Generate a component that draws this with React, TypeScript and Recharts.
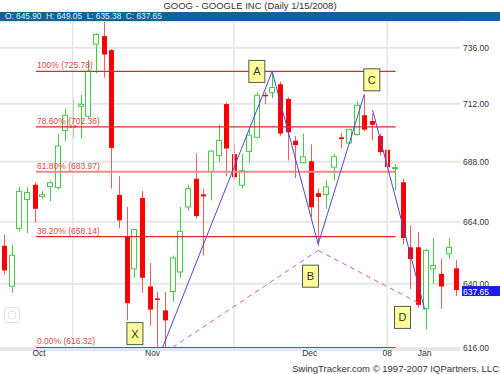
import React from "react"
import {
  Bar,
  CartesianGrid,
  ComposedChart,
  ReferenceDot,
  ReferenceLine,
  XAxis,
  YAxis,
} from "recharts"

const FONT = '"Liberation Sans", Arial, sans-serif'
const GREEN = "#44cc44"
const RED = "#ff0000"
const RED_WICK = "#f25c5c"
const FIB_RED = "#e02828"

// GOOG daily, 10/19/2007 - 1/15/2008
const dates = [
  "10/19", "10/22", "10/23", "10/24", "10/25", "10/26", "10/29", "10/30", "10/31",
  "11/01", "11/02", "11/05", "11/06", "11/07", "11/08", "11/09", "11/12", "11/13", "11/14", "11/15",
  "11/16", "11/19", "11/20", "11/21", "11/23", "11/26", "11/27", "11/28", "11/29", "11/30",
  "12/03", "12/04", "12/05", "12/06", "12/07", "12/10", "12/11", "12/12", "12/13", "12/14",
  "12/17", "12/18", "12/19", "12/20", "12/21", "12/24", "12/26", "12/27", "12/28", "12/31",
  "01/02", "01/03", "01/04", "01/07", "01/08", "01/09", "01/10", "01/11", "01/14", "01/15",
]
const opens = [
  654.6, 639.1, 661.4, 672.8, 678.7, 673.9, 677.9, 677.5, 700.8,
  702.2, 711.0, 706.8, 737.6, 741.2, 735.0, 674.6, 658.3, 645.7, 673.4, 639.0,
  634.5, 630.0, 637.1, 644.5, 669.8, 681.1, 674.8, 683.8, 690.5, 711.9,
  691.1, 678.5, 692.2, 698.0, 715.8, 716.7, 720.3, 714.1, 696.6, 687.6,
  688.2, 675.3, 674.8, 685.8, 698.0, 695.7, 699.2, 707.2, 704.8, 698.6,
  692.9, 685.2, 679.7, 654.0, 654.0, 630.6, 645.7, 643.8, 651.5, 645.9,
]
const highs = [
  659.0, 655.0, 677.7, 677.7, 679.5, 676.1, 680.4, 699.5, 710.0,
  714.0, 715.7, 730.7, 742.5, 747.4, 735.5, 682.1, 669.8, 661.2, 676.1, 648.0,
  636.8, 636.9, 650.8, 669.8, 678.7, 691.4, 677.1, 692.9, 703.3, 712.5,
  695.4, 691.1, 702.3, 717.0, 717.1, 725.78, 721.4, 714.9, 698.5, 699.6,
  695.1, 677.1, 680.4, 691.3, 699.9, 701.5, 713.0, 716.2, 707.9, 699.6,
  697.5, 687.0, 681.2, 662.5, 659.9, 653.4, 657.6, 649.6, 657.5, 649.05,
]
const lows = [
  643.6, 636.6, 660.2, 659.6, 663.6, 673.1, 672.0, 676.8, 696.4,
  697.9, 697.5, 705.9, 725.1, 723.1, 677.1, 661.4, 626.3, 642.3, 636.6, 624.4,
  616.5, 616.32, 633.2, 642.3, 668.4, 665.2, 650.8, 672.4, 687.8, 682.1,
  680.8, 677.1, 687.6, 697.5, 711.8, 714.4, 698.6, 688.5, 681.3, 687.3,
  665.8, 654.6, 669.1, 680.4, 693.4, 695.2, 698.8, 700.5, 696.8, 690.5,
  677.7, 676.4, 655.0, 638.1, 631.1, 623.0, 640.0, 630.6, 649.6, 635.38,
]
const closes = [
  645.1, 650.9, 676.0, 675.6, 669.1, 674.7, 679.5, 694.4, 707.2,
  702.8, 711.8, 725.9, 741.9, 733.1, 693.6, 664.5, 632.7, 660.9, 642.3, 630.3,
  634.0, 626.3, 649.9, 660.2, 677.1, 666.2, 674.0, 692.3, 696.7, 693.4,
  681.7, 684.4, 698.9, 715.6, 715.2, 718.9, 699.6, 700.1, 694.8, 690.0,
  669.7, 673.8, 677.8, 690.0, 697.3, 701.3, 711.4, 701.2, 703.2, 691.9,
  685.8, 685.6, 657.6, 649.5, 632.1, 652.8, 647.0, 639.0, 654.0, 637.65,
]

const yTicks = [616, 640, 664, 688, 712, 736]
const monthStarts = [9, 30, 50]
const monthTickPos = [4.6, 19.4, 39.9, 50, 54.9]
const monthTickLabels = ["Oct", "Nov", "Dec", "08", "Jan"]

// fibonacci retracement levels
const fibPrices = [725.78, 702.36, 683.97, 658.14, 616.32]
const fibLabels = ["100% (725.78)", "78.60% (702.36)", "61.80% (683.97)", "38.20% (658.14)", "0.00% (616.32)"]
const fibSpan = [4.2, 51.1]

// XABCD pattern legs, [index, price]
const solidLegs = [
  [[20.7, 616.32], [35, 725.78]],
  [[35, 725.78], [41, 655.2]],
  [[41, 655.2], [47, 715.8]],
  [[48.1, 709.4], [54.9, 630.4]],
]
const dashedLegs = [
  [[22.0, 616.32], [41, 652.8]],
  [[41, 652.8], [54.6, 632.0]],
]
const pivotLetters = ["X", "A", "B", "C", "D"]
const pivotIdx = [17.1, 33.0, 40.0, 48.0, 52.0]
const pivotPrice = [621.4, 725.8, 642.9, 722.2, 627.4]

const data = dates.map((d, i) => ({
  date: d,
  i,
  open: opens[i],
  high: highs[i],
  low: lows[i],
  close: closes[i],
  range: [lows[i], highs[i]],
}))

const last = data[data.length - 1]
const header = `O: ${last.open.toFixed(2)}  H: ${last.high.toFixed(2)}  L: ${last.low.toFixed(2)}  C: ${last.close.toFixed(2)}`

function Candle(props: any) {
  const { x, y, width, height, payload } = props
  if (!payload || height == null) return null
  const { open, close, high, low } = payload
  const lh = Math.log(high)
  const span = lh - Math.log(low) || 1
  const py = (p: number) => y + (height * (lh - Math.log(p))) / span
  const cx = Math.round(x + width / 2) + 0.5
  const top = py(Math.max(open, close))
  const bot = py(Math.min(open, close))
  if (close >= open) {
    return (
      <g>
        <line x1={cx} x2={cx} y1={y} y2={top} stroke={GREEN} />
        <line x1={cx} x2={cx} y1={bot} y2={y + height} stroke={GREEN} />
        <rect x={cx - 3} y={top} width={5} height={Math.max(bot - top, 1)} fill="#fff" stroke={GREEN} />
      </g>
    )
  }
  return (
    <g>
      <line x1={cx} x2={cx} y1={y} y2={y + height} stroke={RED_WICK} />
      <rect x={cx - 2.5} y={top} width={5} height={Math.max(bot - top, 1.5)} fill={RED} />
    </g>
  )
}

const fibLabel = (text: string) => (p: any) => {
  const vb = p.viewBox || {}
  const x = vb.x ?? vb.x1 ?? 0
  const y = vb.y ?? vb.y1 ?? 0
  return (
    <text x={x + 1} y={y - 3} fontSize={8.5} fill="#e04646">
      {text}
    </text>
  )
}

const PriceTag = (p: any) => {
  const vb = p.viewBox || {}
  const x = (vb.x ?? 0) + (vb.width ?? 0) + 3
  const y = vb.y ?? 0
  return (
    <g>
      <rect x={x - 1} y={y - 4} width={39} height={10} fill="#1c1cf2" />
      <text x={x} y={y + 4.5} fontSize={8.5} fill="#fff">
        {last.close.toFixed(2)}
      </text>
    </g>
  )
}

function PivotBox({ cx, cy, letter }: { cx: number; cy: number; letter: string }) {
  return (
    <g>
      <rect x={cx - 8} y={cy - 11} width={16} height={22} fill="#ffff99" stroke="#555" />
      <text x={cx} y={cy + 4} textAnchor="middle" fontSize={11} fill="#333">
        {letter}
      </text>
    </g>
  )
}

export default function App() {
  return (
    <div
      style={{
        position: "absolute",
        left: 0,
        top: 0,
        width: 500,
        height: 374,
        background: "#fff",
        fontFamily: FONT,
        overflow: "hidden",
      }}
    >
      <ComposedChart width={500} height={374} data={data} margin={{ top: 21, right: 0, bottom: 0, left: 0 }}>
        <CartesianGrid xAxisId="m" vertical={false} stroke="#e6e6e6" strokeWidth={2} />
        <XAxis
          xAxisId="m"
          type="number"
          dataKey="i"
          domain={[-0.5, 59.5]}
          allowDataOverflow
          ticks={monthTickPos}
          interval={0}
          tickFormatter={(v: number) => monthTickLabels[monthTickPos.indexOf(v)] ?? ""}
          axisLine={false}
          tickLine={false}
          tickSize={0}
          tickMargin={0}
          height={24}
          tick={{ fontSize: 8.5, fill: "#333" }}
        />
        <XAxis xAxisId="c" dataKey="date" hide height={0} />
        <YAxis
          orientation="right"
          scale="log"
          domain={[615.4, 747.8]}
          allowDataOverflow
          ticks={yTicks}
          tickFormatter={(v: number) => v.toFixed(2)}
          width={40}
          tickSize={2}
          tickMargin={1}
          axisLine={false}
          tickLine={false}
          tick={{ fontSize: 8.5, fill: "#333" }}
        />
        {monthStarts.map((m) => (
          <ReferenceLine key={`m-${m}`} xAxisId="m" x={m} stroke="#e6e6e6" strokeWidth={1.5} />
        ))}
        {fibPrices.map((p, k) => (
          <ReferenceLine
            key={`fib-${k}`}
            xAxisId="m"
            segment={[
              { x: fibSpan[0], y: p },
              { x: fibSpan[1], y: p },
            ]}
            stroke={k === 2 ? "#f08a8a" : FIB_RED}
            strokeWidth={k === 2 ? 2 : 1.2}
            strokeOpacity={1}
            ifOverflow="visible"
            label={fibLabel(fibLabels[k])}
          />
        ))}
        <Bar xAxisId="c" dataKey="range" barSize={6} shape={Candle} isAnimationActive={false} />
        {dashedLegs.map((leg, k) => (
          <ReferenceLine
            key={`dash-${k}`}
            xAxisId="m"
            segment={[
              { x: leg[0][0], y: leg[0][1] },
              { x: leg[1][0], y: leg[1][1] },
            ]}
            stroke="#dd55dd"
            strokeDasharray="5 4"
            ifOverflow="visible"
          />
        ))}
        {solidLegs.map((leg, k) => (
          <ReferenceLine
            key={`leg-${k}`}
            xAxisId="m"
            segment={[
              { x: leg[0][0], y: leg[0][1] },
              { x: leg[1][0], y: leg[1][1] },
            ]}
            stroke="#4a4ad4"
            ifOverflow="visible"
          />
        ))}
        {pivotLetters.map((l, k) => (
          <ReferenceDot
            key={`pv-${l}`}
            xAxisId="m"
            x={pivotIdx[k]}
            y={pivotPrice[k]}
            r={0}
            ifOverflow="visible"
            shape={(p: any) => <PivotBox cx={p.cx} cy={p.cy} letter={l} />}
          />
        ))}
        <ReferenceLine xAxisId="m" y={last.close} stroke="none" label={PriceTag} />
      </ComposedChart>

      <svg
        width={500}
        height={374}
        style={{ position: "absolute", left: 0, top: 0, pointerEvents: "none" }}
      >
        <text x={250} y={9} textAnchor="middle" fontSize={9.5} fill="#333">
          GOOG - GOOGLE INC (Daily 1/15/2008)
        </text>
        <rect x={0} y={12} width={500} height={9} fill="#0d6496" />
        <text x={5} y={18.5} fontSize={8.3} fill="#e6eef6" style={{ whiteSpace: "pre" }}>
          {header}
        </text>
        <g stroke="#e2e2e2" fill="none">
          <rect x={4.5} y={307.5} width={15} height={15} rx={2} />
          <circle cx={12} cy={315} r={4} />
        </g>
        <text x={499} y={372} textAnchor="end" fontSize={9.5} fill="#333">
          SwingTracker.com © 1997-2007 IQPartners, LLC
        </text>
      </svg>
    </div>
  )
}
